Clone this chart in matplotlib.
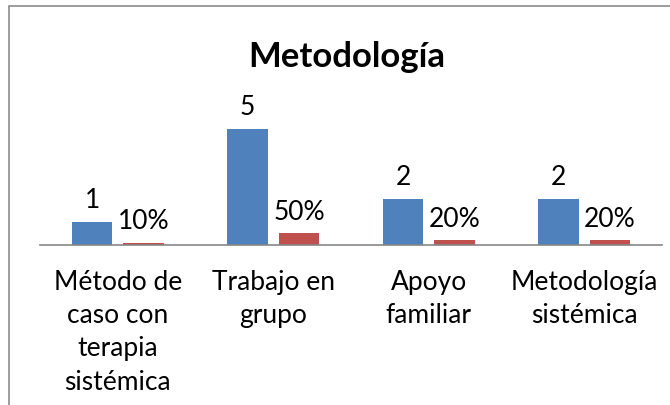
import matplotlib
matplotlib.use("Agg")
import matplotlib.pyplot as plt
from matplotlib.patches import Rectangle
import numpy as np

categories = ["Método de\ncaso con\nterapia\nsistémica", "Trabajo en\ngrupo", "Apoyo\nfamiliar", "Metodología\nsistémica"]
counts = [1, 5, 2, 2]
percents = [0.10, 0.50, 0.20, 0.20]
count_labels = ["1", "5", "2", "2"]
percent_labels = ["10%", "50%", "20%", "20%"]

plt.rcParams['font.family'] = ['Lato', 'DejaVu Sans']

W, H = 670, 406
fig = plt.figure(figsize=(W/100, H/100), dpi=100)
fig.patches.append(Rectangle((9/W, -0.05), 1.1, (H-7)/H + 0.05, transform=fig.transFigure,
                             fill=False, edgecolor='#8c8c8c', linewidth=1.2))

left, right = 40/W, 662/W
bottom = (H-246)/H
top_px = 100
ax = fig.add_axes([left, bottom, right-left, (246-top_px)/H])

x = np.arange(len(categories))
bw = 0.26
off = 0.165
b1 = ax.bar(x - off, counts, bw, color='#4F81BD')
b2 = ax.bar(x + off, percents, bw, color='#C0504D')
ax.set_xlim(-0.5, 3.5)
ax.set_ylim(0, (246-top_px)/23.2)

for rect, lab in zip(b1, count_labels):
    ax.annotate(lab, (rect.get_x()+rect.get_width()/2, rect.get_height()),
                xytext=(0, 7), textcoords='offset points', ha='center', va='bottom', fontsize=19)
for rect, lab in zip(b2, percent_labels):
    ax.annotate(lab, (rect.get_x()+rect.get_width()/2, rect.get_height()),
                xytext=(0, 7), textcoords='offset points', ha='center', va='bottom', fontsize=19)

ax.set_xticks(x)
ax.set_xticklabels(categories, fontsize=19, linespacing=1.42)
ax.tick_params(axis='x', length=0, pad=17)
ax.set_yticks([])
for s in ['top', 'right', 'left']:
    ax.spines[s].set_visible(False)
ax.spines['bottom'].set_color('#868686')
ax.spines['bottom'].set_linewidth(1.2)

fig.text(347/W, (H-57)/H, "Metodología", ha='center', va='center', fontsize=25, fontweight='bold')

fig.savefig("out.png", dpi=100)
